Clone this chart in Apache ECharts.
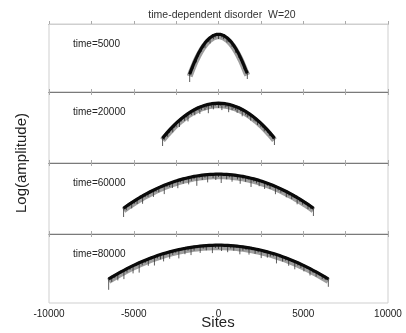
<!DOCTYPE html>
<html><head><meta charset="utf-8">
<script src="https://cdn.jsdelivr.net/npm/echarts@6/dist/echarts.min.js"></script>
<style>html,body{margin:0;padding:0;background:#fff}#c{width:406px;height:333px}</style>
</head><body><div id="c"></div>
<script>
// ---- data (y = log amplitude in arbitrary units, 0 = top of each panel) ----
const panelLabels = ['time=5000', 'time=20000', 'time=60000', 'time=80000'];
const xTicks = [-10000, -5000, 0, 5000, 10000];

// panel 1: time=5000
const sites1 = [-1700,-1600,-1500,-1400,-1300,-1200,-1100,-1000,-900,-800,-700,-600,-500,-400,-300,-200,-100,0,100,200,300,400,500,600,700,800,900,1000,1100,1200,1300,1400,1500,1600,1700];
const top1 = [-49,-44.4,-40.2,-36.1,-32.4,-28.9,-25.8,-22.8,-20.2,-17.9,-15.8,-14,-12.5,-11.2,-10.2,-9.6,-9.1,-9,-9.1,-9.6,-10.2,-11.2,-12.5,-14,-15.8,-17.9,-20.2,-22.8,-25.8,-28.9,-32.4,-36.1,-40.2,-44.4,-48];
const dip1 = [9,4,5,3,6,4,3,5,4,6,3,4,7,3,5,4,3,6,3,4,5,3,6,4,3,5,4,6,3,5,4,4,5,4,7];

// panel 2: time=20000
const sites2 = [-3300,-3200,-3100,-3000,-2900,-2800,-2700,-2600,-2500,-2400,-2300,-2200,-2100,-2000,-1900,-1800,-1700,-1600,-1500,-1400,-1300,-1200,-1100,-1000,-900,-800,-700,-600,-500,-400,-300,-200,-100,0,100,200,300,400,500,600,700,800,900,1000,1100,1200,1300,1400,1500,1600,1700,1800,1900,2000,2100,2200,2300,2400,2500,2600,2700,2800,2900,3000,3100,3200,3300];
const top2 = [-45,-42.9,-40.9,-38.9,-37,-35.2,-33.4,-31.7,-30.1,-28.5,-27,-25.6,-24.2,-22.9,-21.6,-20.4,-19.3,-18.2,-17.2,-16.3,-15.4,-14.6,-13.9,-13.2,-12.6,-12.1,-11.6,-11.2,-10.8,-10.5,-10.3,-10.1,-10,-10,-10,-10.1,-10.3,-10.5,-10.8,-11.2,-11.6,-12.1,-12.6,-13.2,-13.9,-14.6,-15.4,-16.3,-17.2,-18.2,-19.3,-20.4,-21.6,-22.9,-24.2,-25.6,-27,-28.5,-30.1,-31.7,-33.4,-35.2,-37,-38.9,-40.9,-42.9,-45];
const dip2 = [9,5,3,6,4,3,7,4,5,3,8,4,3,6,4,9,3,5,4,7,3,4,8,5,3,6,4,10,3,5,7,4,3,6,4,8,3,5,4,9,3,6,4,5,7,3,4,8,3,5,6,4,7,3,5,4,6,3,5,4,6,3,4,5,3,4,8];

// panel 3: time=60000
const sites3 = [-5600,-5440,-5280,-5120,-4960,-4800,-4640,-4480,-4320,-4160,-4000,-3840,-3680,-3520,-3360,-3200,-3040,-2880,-2720,-2560,-2400,-2240,-2080,-1920,-1760,-1600,-1440,-1280,-1120,-960,-800,-640,-480,-320,-160,0,160,320,480,640,800,960,1120,1280,1440,1600,1760,1920,2080,2240,2400,2560,2720,2880,3040,3200,3360,3520,3680,3840,4000,4160,4320,4480,4640,4800,4960,5120,5280,5440,5600];
const top3 = [-44,-42.1,-40.2,-38.4,-36.7,-35,-33.3,-31.8,-30.2,-28.8,-27.3,-26,-24.7,-23.4,-22.2,-21.1,-20,-19,-18,-17.1,-16.2,-15.4,-14.7,-14,-13.4,-12.8,-12.2,-11.8,-11.4,-11,-10.7,-10.4,-10.25,-10.1,-10,-10,-10,-10.1,-10.25,-10.4,-10.7,-11,-11.4,-11.8,-12.2,-12.8,-13.4,-14,-14.7,-15.4,-16.2,-17.1,-18,-19,-20,-21.1,-22.2,-23.4,-24.7,-26,-27.3,-28.8,-30.2,-31.8,-33.3,-35,-36.7,-38.4,-40.2,-42.1,-44];
const dip3 = [10,5,3,7,4,6,3,9,4,5,3,8,4,6,3,10,4,5,7,3,9,4,6,3,8,5,4,11,3,6,4,9,3,5,7,4,10,3,6,4,8,3,5,9,4,6,3,10,4,5,7,3,8,4,6,3,9,4,5,3,7,4,6,3,8,4,5,3,6,4,9];

// panel 4: time=80000
const sites4 = [-6480,-6300,-6120,-5940,-5760,-5580,-5400,-5220,-5040,-4860,-4680,-4500,-4320,-4140,-3960,-3780,-3600,-3420,-3240,-3060,-2880,-2700,-2520,-2340,-2160,-1980,-1800,-1620,-1440,-1260,-1080,-900,-720,-540,-360,-180,0,180,360,540,720,900,1080,1260,1440,1620,1800,1980,2160,2340,2520,2700,2880,3060,3240,3420,3600,3780,3960,4140,4320,4500,4680,4860,5040,5220,5400,5580,5760,5940,6120,6300,6480];
const top4 = [-43.8,-41.9,-40.1,-38.4,-36.7,-35.1,-33.5,-31.9,-30.4,-29,-27.6,-26.3,-25,-23.8,-22.6,-21.5,-20.4,-19.4,-18.4,-17.5,-16.7,-15.9,-15.1,-14.4,-13.75,-13.2,-12.6,-12.1,-11.7,-11.3,-10.9,-10.65,-10.4,-10.2,-10.1,-10,-10,-10,-10.1,-10.2,-10.4,-10.65,-10.9,-11.3,-11.7,-12.1,-12.6,-13.2,-13.75,-14.4,-15.1,-15.9,-16.7,-17.5,-18.4,-19.4,-20.4,-21.5,-22.6,-23.8,-25,-26.3,-27.6,-29,-30.4,-31.9,-33.5,-35.1,-36.7,-38.4,-40.1,-41.9,-43.8];
const dip4 = [12,6,4,8,3,10,5,4,9,3,11,5,4,8,3,10,4,6,9,3,8,5,4,10,3,7,4,9,5,3,8,4,6,3,9,4,5,7,3,8,4,6,3,9,5,4,8,3,6,4,9,3,7,5,4,10,3,6,4,8,3,9,4,5,7,3,8,4,6,3,5,4,9];

const allSites = [sites1, sites2, sites3, sites4];
const allTop = [top1, top2, top3, top4];
const allDip = [dip1, dip2, dip3, dip4];

// ---- layout ----
const tops = [24, 92, 163, 234];
const heights = [68, 71, 71, 69];
const L = 49, R = 18;
const FONT = 'Liberation Sans, Arial, sans-serif';

const grids = [], xAxes = [], yAxes = [], series = [], titles = [];
for (let i = 0; i < 4; i++) {
  grids.push({left: L, right: R, top: tops[i], height: heights[i], show: true, borderColor: '#cfcfcf', borderWidth: 1, backgroundColor: '#fff'});
  const last = i === 3;
  xAxes.push({
    type: 'value', gridIndex: i, min: -10000, max: 10000, interval: 2500, position: 'bottom',
    axisLine: {show: true, lineStyle: {color: last ? '#c0c0c0' : '#7a7a7a', width: 1}},
    axisTick: {show: true, inside: true, length: 3, lineStyle: {color: '#aaa'}},
    splitLine: {show: false},
    axisLabel: {show: last, color: '#222', fontSize: 10, margin: 6, fontFamily: FONT,
      formatter: v => (xTicks.indexOf(v) >= 0 ? String(v) : '')}
  });
  xAxes.push({
    type: 'value', gridIndex: i, min: -10000, max: 10000, interval: 2500, position: 'top',
    axisLine: {show: true, lineStyle: {color: i === 0 ? '#cfcfcf' : '#7a7a7a', width: 1}},
    axisTick: {show: i > 0, inside: true, length: 3, lineStyle: {color: '#aaa'}},
    splitLine: {show: false}, axisLabel: {show: false}
  });
  yAxes.push({type: 'value', gridIndex: i, min: -heights[i], max: 0, show: false});

  const s = allSites[i], t = allTop[i], d = allDip[i];
  // soft grey fringe of short fluctuations under the band
  series.push({type: 'line', xAxisIndex: 2 * i, yAxisIndex: i, data: s.map((x, k) => [x, t[k] - 3.2]),
    showSymbol: false, silent: true, animation: false, lineStyle: {color: 'rgba(40,40,40,0.45)', width: 6}});
  // fluctuation hairs hanging below the envelope
  series.push({
    type: 'custom', xAxisIndex: 2 * i, yAxisIndex: i, silent: true, animation: false,
    data: s.map((x, k) => [x, t[k], t[k] - d[k]]),
    encode: {x: 0, y: [1, 2]},
    renderItem: (params, api) => {
      const a = api.coord([api.value(0), api.value(1)]);
      const b = api.coord([api.value(0), api.value(2)]);
      return {type: 'line', shape: {x1: a[0], y1: a[1], x2: b[0], y2: b[1]}, style: {stroke: '#4a4a4a', lineWidth: 0.9}};
    }
  });
  // dense upper band
  series.push({type: 'line', xAxisIndex: 2 * i, yAxisIndex: i, data: s.map((x, k) => [x, t[k] - 1.2]),
    showSymbol: false, silent: true, animation: false, lineStyle: {color: '#0a0a0a', width: 3.2}});
  titles.push({text: panelLabels[i], left: 68, top: tops[i] + 10,
    textStyle: {fontSize: 10, fontWeight: 'normal', color: '#222', fontFamily: FONT}});
}
titles.push({text: 'time-dependent disorder  W=20', left: 217, textAlign: 'center', top: 5,
  textStyle: {fontSize: 10.5, fontWeight: 'normal', color: '#333', fontFamily: FONT}});

const chart = echarts.init(document.getElementById('c'), null, {renderer: 'canvas'});
chart.setOption({
  animation: false,
  title: titles,
  grid: grids, xAxis: xAxes, yAxis: yAxes, series: series,
  graphic: [
    {type: 'text', x: 22, y: 163, rotation: Math.PI / 2,
      style: {text: 'Log(amplitude)', fill: '#222', font: '15px "Liberation Sans", Arial, sans-serif', textAlign: 'center', textVerticalAlign: 'middle'}},
    {type: 'text', x: 218, y: 323,
      style: {text: 'Sites', fill: '#222', font: '15px "Liberation Sans", Arial, sans-serif', textAlign: 'center', textVerticalAlign: 'middle'}}
  ]
});
</script></body></html>
